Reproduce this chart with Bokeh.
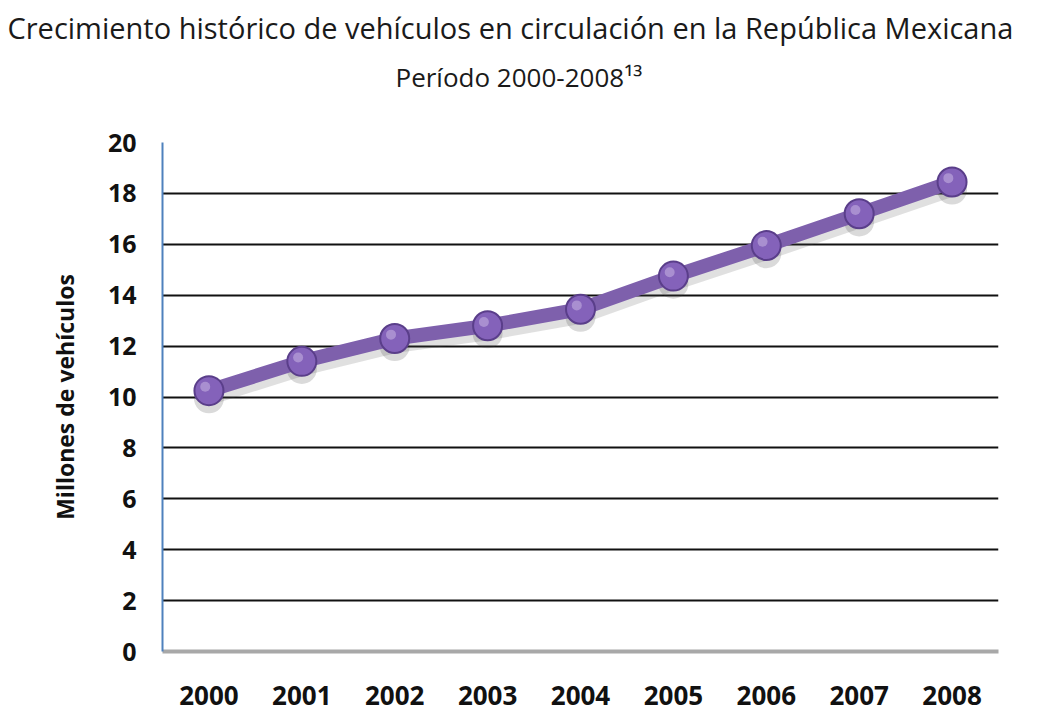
from bokeh.plotting import figure
from bokeh.models import ColumnDataSource, Title, FixedTicker
from bokeh.transform import dodge
from bokeh.embed import file_html
from bokeh.resources import INLINE

years = ["2000", "2001", "2002", "2003", "2004", "2005", "2006", "2007", "2008"]
vehicles = [10.25, 11.4, 12.3, 12.8, 13.45, 14.75, 15.95, 17.2, 18.45]
y_ticks = [0, 2, 4, 6, 8, 10, 12, 14, 16, 18, 20]

src = ColumnDataSource(dict(x=years, y=vehicles))

p = figure(width=1031, height=712, x_range=years, y_range=(0, 20),
           output_backend="svg", toolbar_location=None,
           min_border_left=162, min_border_right=33, min_border_bottom=61,
           min_border_top=20)
p.outline_line_color = None
p.background_fill_color = "white"
p.border_fill_color = "white"

font = "Open Sans"
p.add_layout(Title(text=" ", text_font_size="28px"), "above")
p.add_layout(Title(text="Período 2000-2008¹³", align="left", text_font=font,
                   text_font_size="26px", text_font_style="normal", offset=233,
                   text_color="#1a1a1a"), "above")
p.add_layout(Title(text="Crecimiento histórico de vehículos en circulación en la República Mexicana",
                   align="left", text_font=font, text_font_size="29px", offset=-155,
                   text_font_style="normal", text_color="#1a1a1a"), "above")

# grid
p.xgrid.grid_line_color = None
p.ygrid.ticker = FixedTicker(ticks=y_ticks[1:])
p.ygrid.grid_line_color = "#111111"
p.ygrid.grid_line_width = 2

# axes
p.yaxis.ticker = FixedTicker(ticks=y_ticks)
p.yaxis.axis_line_color = "#4F81BD"
p.yaxis.axis_line_width = 2
p.yaxis.major_tick_line_color = None
p.yaxis.minor_tick_line_color = None
p.yaxis.major_label_text_font = font
p.yaxis.major_label_text_font_style = "bold"
p.yaxis.major_label_text_font_size = "25px"
p.yaxis.major_label_text_color = "#111111"
p.yaxis.major_label_standoff = 20
p.yaxis.axis_label = "Millones de vehículos"
p.yaxis.axis_label_text_font = font
p.yaxis.axis_label_text_font_style = "bold"
p.yaxis.axis_label_text_font_size = "23px"
p.yaxis.axis_label_text_color = "#111111"
p.yaxis.axis_label_standoff = 24

p.xaxis.axis_line_color = "#a8a8a8"
p.xaxis.axis_line_width = 4
p.xaxis.major_tick_line_color = None
p.xaxis.minor_tick_line_color = None
p.xaxis.major_label_text_font = font
p.xaxis.major_label_text_font_style = "bold"
p.xaxis.major_label_text_font_size = "26px"
p.xaxis.major_label_text_color = "#111111"
p.xaxis.major_label_standoff = 28

# shadow
p.line(x="x", y=dodge("y", -0.3, range=p.y_range), source=src,
       line_color="#555555", line_alpha=0.18, line_width=14)
p.scatter(x="x", y=dodge("y", -0.3, range=p.y_range), source=src,
          size=30, fill_color="#444444", fill_alpha=0.2, line_color=None)

# series
p.line(x="x", y="y", source=src, line_color="#7E60AC", line_width=14)
p.scatter(x="x", y="y", source=src, size=29, fill_color="#8462BA",
          line_color="#5A3E8A", line_width=2)
p.scatter(x=dodge("x", -0.04, range=p.x_range), y=dodge("y", 0.15, range=p.y_range),
          source=src, size=10, fill_color="#B9A2DA", fill_alpha=0.7, line_color=None)

open("out.html", "w").write(file_html(p, INLINE))
